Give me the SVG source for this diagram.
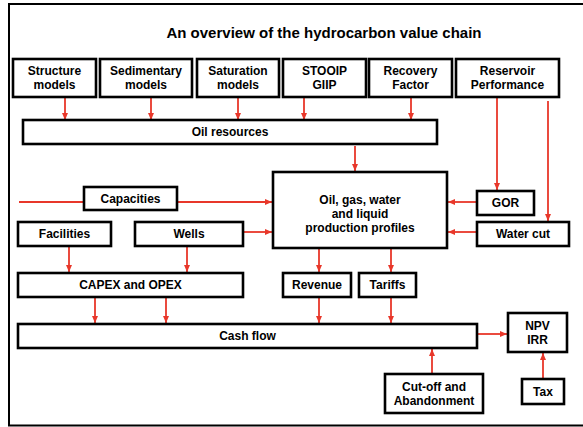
<svg xmlns="http://www.w3.org/2000/svg" width="583" height="427" viewBox="0 0 583 427">
<defs>
<style>
.box{fill:#fff;stroke:#000;stroke-width:2.6}
.t{font-family:"Liberation Sans",Arial,sans-serif;font-weight:bold;font-size:12px;fill:#000;text-anchor:middle}
.title{font-family:"Liberation Sans",Arial,sans-serif;font-weight:bold;font-size:15px;fill:#000;text-anchor:middle}
.c{fill:none;stroke:#e8372a;stroke-width:1.8}
.frame{fill:none;stroke:#000;stroke-width:2}
</style>
<marker id="ah" markerUnits="userSpaceOnUse" markerWidth="7" markerHeight="7" viewBox="0 0 7 7" refX="7" refY="3.5" orient="auto">
<path d="M0,0.5 L7,3.5 L0,6.5 Z" fill="#e8372a"/>
</marker>
</defs>
<rect width="583" height="427" fill="#fff"/>
<path class="frame" d="M583,4 H9 V425.5 H583"/>
<text class="title" x="324" y="38">An overview of the hydrocarbon value chain</text>

<g id="connectors">
<line class="c" x1="65" y1="98" x2="65" y2="120" marker-end="url(#ah)"/>
<line class="c" x1="151" y1="98" x2="151" y2="120" marker-end="url(#ah)"/>
<line class="c" x1="238" y1="98" x2="238" y2="120" marker-end="url(#ah)"/>
<line class="c" x1="304" y1="80" x2="304" y2="120" marker-end="url(#ah)"/>
<line class="c" x1="411" y1="98" x2="411" y2="120" marker-end="url(#ah)"/>
<line class="c" x1="355" y1="146" x2="355" y2="171" marker-end="url(#ah)"/>
<line class="c" x1="497" y1="97" x2="497" y2="190" marker-end="url(#ah)"/>
<line class="c" x1="548" y1="101" x2="548" y2="221" marker-end="url(#ah)"/>
<line class="c" x1="477" y1="202" x2="448" y2="202" marker-end="url(#ah)"/>
<line class="c" x1="477" y1="232" x2="448" y2="232" marker-end="url(#ah)"/>
<line class="c" x1="19" y1="202" x2="84" y2="202"/>
<line class="c" x1="177" y1="202" x2="272" y2="202" marker-end="url(#ah)"/>
<line class="c" x1="243" y1="232" x2="272" y2="232" marker-end="url(#ah)"/>
<line class="c" x1="69" y1="247" x2="69" y2="272" marker-end="url(#ah)"/>
<line class="c" x1="187" y1="247" x2="187" y2="272" marker-end="url(#ah)"/>
<line class="c" x1="319" y1="249" x2="319" y2="272" marker-end="url(#ah)"/>
<line class="c" x1="391" y1="249" x2="391" y2="272" marker-end="url(#ah)"/>
<line class="c" x1="95" y1="298" x2="95" y2="323" marker-end="url(#ah)"/>
<line class="c" x1="166" y1="298" x2="166" y2="323" marker-end="url(#ah)"/>
<line class="c" x1="319" y1="298" x2="319" y2="323" marker-end="url(#ah)"/>
<line class="c" x1="391" y1="298" x2="391" y2="323" marker-end="url(#ah)"/>
<line class="c" x1="478" y1="334" x2="507" y2="334" marker-end="url(#ah)"/>
<line class="c" x1="432" y1="373" x2="432" y2="349" marker-end="url(#ah)"/>
<line class="c" x1="543" y1="378" x2="543" y2="353" marker-end="url(#ah)"/>
</g>

<g id="structure"><rect class="box" x="13" y="59" width="83" height="38"/><text class="t" x="54.5" y="75">Structure</text><text class="t" x="54.5" y="89">models</text></g>
<g id="sedimentary"><rect class="box" x="100" y="59" width="92" height="38"/><text class="t" x="146" y="75">Sedimentary</text><text class="t" x="146" y="89">models</text></g>
<g id="saturation"><rect class="box" x="197" y="59" width="82" height="38"/><text class="t" x="238" y="75">Saturation</text><text class="t" x="238" y="89">models</text></g>
<g id="stooip"><rect class="box" x="283" y="59" width="83" height="38"/><text class="t" x="324.5" y="75">STOOIP</text><text class="t" x="324.5" y="89">GIIP</text></g>
<g id="recovery"><rect class="box" x="369" y="59" width="83" height="38"/><text class="t" x="410.5" y="75">Recovery</text><text class="t" x="410.5" y="89">Factor</text></g>
<g id="reservoir"><rect class="box" x="456" y="59" width="103" height="38"/><text class="t" x="507.5" y="75">Reservoir</text><text class="t" x="507.5" y="89">Performance</text></g>
<g id="oilres"><rect class="box" x="23" y="120" width="414" height="24"/><text class="t" x="230" y="136">Oil resources</text></g>
<g id="profiles"><rect class="box" x="273" y="172" width="174" height="76"/><text class="t" x="360" y="204">Oil, gas, water</text><text class="t" x="360" y="218">and liquid</text><text class="t" x="360" y="232">production profiles</text></g>
<g id="gor"><rect class="box" x="477" y="191" width="57" height="24"/><text class="t" x="505.5" y="207">GOR</text></g>
<g id="watercut"><rect class="box" x="477" y="222" width="92" height="24"/><text class="t" x="523" y="238">Water cut</text></g>
<g id="capacities"><rect class="box" x="84" y="187" width="93" height="23"/><text class="t" x="130.5" y="202.5">Capacities</text></g>
<g id="facilities"><rect class="box" x="18" y="222" width="93" height="24"/><text class="t" x="64.5" y="238">Facilities</text></g>
<g id="wells"><rect class="box" x="135" y="222" width="108" height="24"/><text class="t" x="189" y="238">Wells</text></g>
<g id="capex"><rect class="box" x="18" y="273" width="225" height="24"/><text class="t" x="130.5" y="289">CAPEX and OPEX</text></g>
<g id="revenue"><rect class="box" x="283" y="273" width="68" height="24"/><text class="t" x="317" y="289">Revenue</text></g>
<g id="tariffs"><rect class="box" x="359" y="273" width="57" height="24"/><text class="t" x="387.5" y="289">Tariffs</text></g>
<g id="cashflow"><rect class="box" x="18" y="324" width="459" height="24"/><text class="t" x="247.5" y="340">Cash flow</text></g>
<g id="npv"><rect class="box" x="508" y="313" width="59" height="39"/><text class="t" x="537.5" y="330">NPV</text><text class="t" x="537.5" y="344">IRR</text></g>
<g id="cutoff"><rect class="box" x="385" y="374" width="98" height="39"/><text class="t" x="434" y="391">Cut-off and</text><text class="t" x="434" y="405">Abandonment</text></g>
<g id="tax"><rect class="box" x="522" y="379" width="42" height="25"/><text class="t" x="543" y="396">Tax</text></g>
</svg>
